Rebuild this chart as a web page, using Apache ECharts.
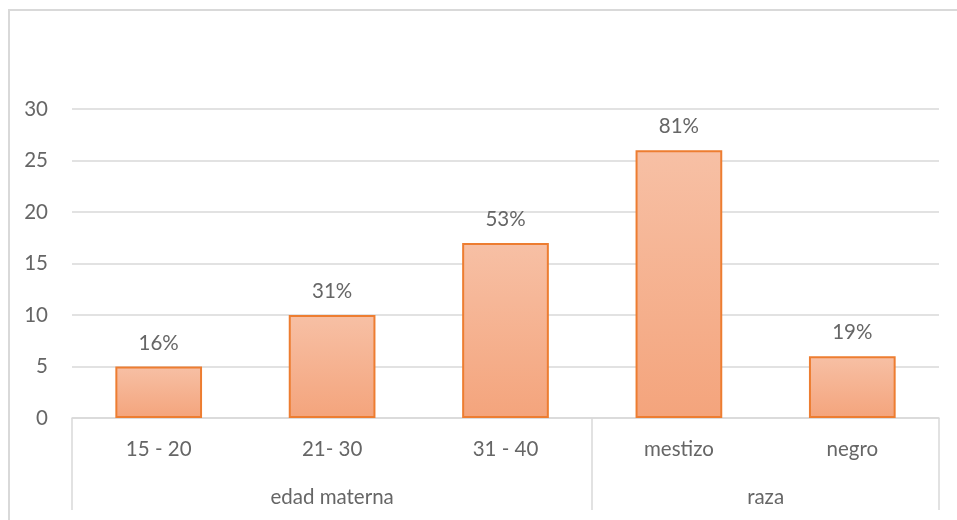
<!DOCTYPE html>
<html>
<head>
<meta charset="utf-8">
<script src="https://cdn.jsdelivr.net/npm/echarts@6/dist/echarts.min.js"></script>
<style>
html,body{margin:0;padding:0;background:#fff;overflow:hidden;}
#frame{position:absolute;left:8px;top:9px;width:1000px;height:600px;border:2px solid #d9d9d9;box-sizing:border-box;}
#chart{position:absolute;left:0;top:0;width:957px;height:520px;}
</style>
</head>
<body>
<div id="frame"></div>
<div id="chart"></div>
<script>
const categories = ["15 - 20", "21- 30", "31 - 40", "mestizo", "negro"];
const values = [5, 10, 17, 26, 6];
const percentLabels = ["16%", "31%", "53%", "81%", "19%"];
const groupNames = ["edad materna", "raza"];
const groupSizes = [3, 2];
const yTicks = [0, 5, 10, 15, 20, 25, 30];

const groupBounds = [0];
groupSizes.forEach(s => groupBounds.push(groupBounds[groupBounds.length - 1] + s));
const groupCenters = groupSizes.map((s, i) => groupBounds[i] + s / 2);

const FONT = 'Lato';
const TXT = '#666666';
const LINE = '#d9d9d9';
const FS = 20.5;

const chart = echarts.init(document.getElementById('chart'));
chart.setOption({
  animation: false,
  backgroundColor: 'transparent',
  grid: { left: 72, right: 18, top: 109, bottom: 102 },
  xAxis: [
    {
      type: 'category',
      data: categories,
      position: 'bottom',
      axisLine: { show: true, lineStyle: { color: LINE, width: 1.5 } },
      axisTick: { show: false },
      axisLabel: { color: TXT, fontFamily: FONT, fontSize: FS, margin: 21 }
    },
    {
      type: 'value',
      min: 0,
      max: categories.length,
      position: 'bottom',
      splitLine: { show: false },
      axisLine: { show: false },
      axisTick: { show: true, customValues: groupBounds, length: 92, lineStyle: { color: LINE, width: 1.5 } },
      axisLabel: {
        show: true,
        customValues: groupCenters,
        formatter: v => { const i = groupCenters.indexOf(v); return i >= 0 ? groupNames[i] : ''; },
        color: TXT, fontFamily: FONT, fontSize: FS, margin: 69
      }
    }
  ],
  yAxis: {
    type: 'value',
    min: yTicks[0],
    max: yTicks[yTicks.length - 1],
    interval: 5,
    axisLine: { show: false },
    axisTick: { show: false },
    splitLine: { lineStyle: { color: LINE, width: 1.5 } },
    axisLabel: { color: TXT, fontFamily: FONT, fontSize: FS, margin: 24 }
  },
  series: [{
    type: 'bar',
    xAxisIndex: 0,
    data: values,
    barWidth: '50%',
    itemStyle: {
      color: new echarts.graphic.LinearGradient(0, 0, 0, 1, [
        { offset: 0, color: '#F7C0A5' },
        { offset: 1, color: '#F4A47C' }
      ]),
      borderColor: '#ED7D31',
      borderWidth: 2
    },
    label: {
      show: true,
      position: 'top',
      distance: 13,
      color: TXT,
      fontFamily: FONT,
      fontSize: FS,
      formatter: p => percentLabels[p.dataIndex]
    }
  }]
});
</script>
</body>
</html>
